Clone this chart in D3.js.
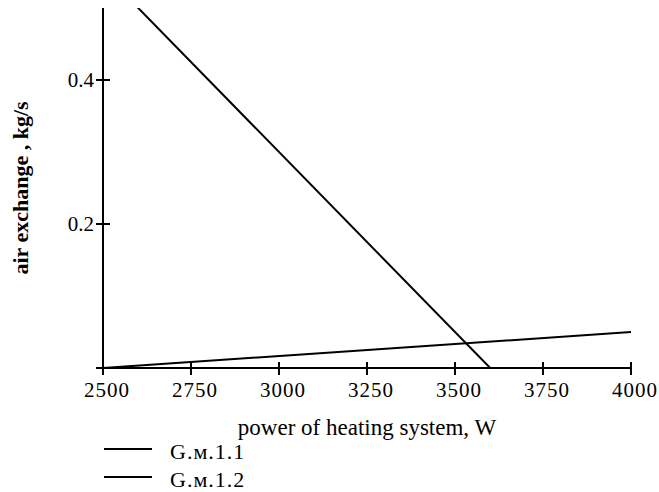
<!DOCTYPE html>
<html>
<head>
<meta charset="utf-8">
<script src="https://cdn.jsdelivr.net/npm/d3@7"></script>
<style>
  body { margin: 0; background: #fff; }
  text { font-family: "Liberation Serif", "Times New Roman", serif; fill: #000; }
</style>
</head>
<body>
<div id="chart"></div>
<script>
// data
var powerG1 = [2500, 3600];
var airG1 = [0.55, 0];
var powerG2 = [2500, 4000];
var airG2 = [0, 0.05];
var xTicks = [2500, 2750, 3000, 3250, 3500, 3750, 4000];
var yTicks = [0.2, 0.4];
var seriesNames = ["G.м.1.1", "G.м.1.2"];

var width = 659, height = 492;
// plot box (window.top is taken, so own names)
var plotLeft = 103, plotRight = 631, plotTop = 8, plotBottom = 368;

var svg = d3.select("#chart").append("svg")
  .attr("width", width)
  .attr("height", height);

var x = d3.scaleLinear().domain([2500, 4000]).range([plotLeft, plotRight]);
var y = d3.scaleLinear().domain([0, 0.5]).range([plotBottom, plotTop]);

svg.append("defs").append("clipPath").attr("id", "plotClip")
  .append("rect")
  .attr("x", plotLeft).attr("y", plotTop)
  .attr("width", plotRight - plotLeft + 2).attr("height", plotBottom - plotTop);

var line = d3.line()
  .x(function(d) { return x(d[0]); })
  .y(function(d) { return y(d[1]); });

var series = [
  d3.zip(powerG1, airG1),
  d3.zip(powerG2, airG2)
];

var plot = svg.append("g").attr("clip-path", "url(#plotClip)");
plot.selectAll("path.series")
  .data(series)
  .enter().append("path")
  .attr("class", "series")
  .attr("d", line)
  .attr("fill", "none")
  .attr("stroke", "#000")
  .attr("stroke-width", 2);

// axes drawn by hand, crossing ticks like the original
var axes = svg.append("g").attr("stroke", "#000").attr("stroke-width", 2);
axes.append("line")
  .attr("x1", plotLeft - 7).attr("x2", plotRight + 1)
  .attr("y1", plotBottom).attr("y2", plotBottom);
axes.append("line")
  .attr("x1", plotLeft).attr("x2", plotLeft)
  .attr("y1", plotTop).attr("y2", plotBottom + 7);

axes.selectAll("line.xt")
  .data(xTicks)
  .enter().append("line")
  .attr("class", "xt")
  .attr("x1", function(d) { return x(d); })
  .attr("x2", function(d) { return x(d); })
  .attr("y1", plotBottom - 6).attr("y2", plotBottom + 7);

axes.selectAll("line.yt")
  .data(yTicks)
  .enter().append("line")
  .attr("class", "yt")
  .attr("x1", plotLeft - 7).attr("x2", plotLeft + 7)
  .attr("y1", function(d) { return y(d); })
  .attr("y2", function(d) { return y(d); });

svg.selectAll("text.xl")
  .data(xTicks)
  .enter().append("text")
  .attr("class", "xl")
  .attr("x", function(d) { return x(d) + 4; })
  .attr("y", plotBottom + 29)
  .attr("text-anchor", "middle")
  .attr("font-size", 21)
  .attr("letter-spacing", 1)
  .text(function(d) { return d; });

svg.selectAll("text.yl")
  .data(yTicks)
  .enter().append("text")
  .attr("class", "yl")
  .attr("x", plotLeft - 9)
  .attr("y", function(d) { return y(d) + 7; })
  .attr("text-anchor", "end")
  .attr("font-size", 21)
  .text(function(d) { return d3.format(".1f")(d); });

svg.append("text")
  .attr("x", 367)
  .attr("y", 435)
  .attr("text-anchor", "middle")
  .attr("font-size", 23)
  .text("power of heating system, W");

svg.append("text")
  .attr("transform", "translate(28,188) rotate(-90)")
  .attr("text-anchor", "middle")
  .attr("font-size", 22)
  .attr("font-weight", "bold")
  .text("air exchange , kg/s");

// legend
var legend = svg.selectAll("g.legend")
  .data(seriesNames)
  .enter().append("g")
  .attr("class", "legend")
  .attr("transform", function(d, i) { return "translate(0," + (449 + i * 28) + ")"; });
legend.append("line")
  .attr("x1", 104).attr("x2", 152)
  .attr("y1", 0).attr("y2", 0)
  .attr("stroke", "#000").attr("stroke-width", 2);
legend.append("text")
  .attr("x", 170).attr("y", 10)
  .attr("font-size", 22)
  .attr("letter-spacing", 1)
  .text(function(d) { return d; });
</script>
</body>
</html>
